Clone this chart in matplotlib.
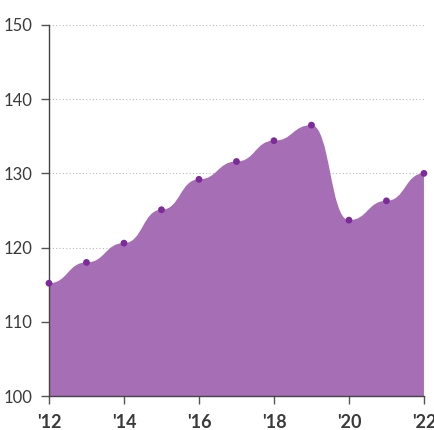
import numpy as np
import matplotlib
matplotlib.use("Agg")
import matplotlib.pyplot as plt
from matplotlib.path import Path
from matplotlib.patches import PathPatch

years = [2012, 2013, 2014, 2015, 2016, 2017, 2018, 2019, 2020, 2021, 2022]
values = [115.2, 118.0, 120.6, 125.1, 129.2, 131.6, 134.4, 136.5, 123.7, 126.3, 130.0]
x_ticks = [2012, 2014, 2016, 2018, 2020, 2022]
x_labels = ["'12", "'14", "'16", "'18", "'20", "'22"]
y_ticks = [100, 110, 120, 130, 140, 150]

plt.rcParams['font.family'] = ['Lato', 'DejaVu Sans']

fig = plt.figure(figsize=(4.35, 4.3), dpi=100)
ax = fig.add_axes([0.1126, 0.079, 0.862, 0.863])

# bump-x style curve: horizontal tangents at each point
verts = [(years[0], 100), (years[0], values[0])]
codes = [Path.MOVETO, Path.LINETO]
for i in range(len(years) - 1):
    xm = (years[i] + years[i + 1]) / 2
    verts += [(xm, values[i]), (xm, values[i + 1]), (years[i + 1], values[i + 1])]
    codes += [Path.CURVE4] * 3
verts += [(years[-1], 100), (years[0], 100)]
codes += [Path.LINETO, Path.CLOSEPOLY]

ax.add_patch(PathPatch(Path(verts, codes), facecolor='#a66eb5', edgecolor='none', zorder=2))
ax.scatter(years, values, s=24, color='#7d2a9a', zorder=6, edgecolors='none', clip_on=False)

for yv in y_ticks:
    ax.axhline(yv, color='#bbbbbb', lw=0.8, ls=(0, (1, 2)), zorder=1)

ax.set_xlim(2012, 2022)
ax.set_ylim(100, 150)
ax.set_xticks(x_ticks)
ax.set_xticklabels(x_labels, fontsize=13, fontweight='bold', color='#3a3a3a')
ax.set_yticks(y_ticks)
ax.set_yticklabels([str(v) for v in y_ticks], fontsize=12, color='#3a3a3a')
ax.tick_params(axis='both', length=6, width=1, color='#555555')
ax.tick_params(axis='x', pad=7)
ax.tick_params(axis='y', pad=6)

for s in ['top', 'right']:
    ax.spines[s].set_visible(False)
for s in ['left', 'bottom']:
    ax.spines[s].set_color('#444444')
    ax.spines[s].set_linewidth(1)
    ax.spines[s].set_zorder(5)

fig.savefig('out.png', dpi=100)
